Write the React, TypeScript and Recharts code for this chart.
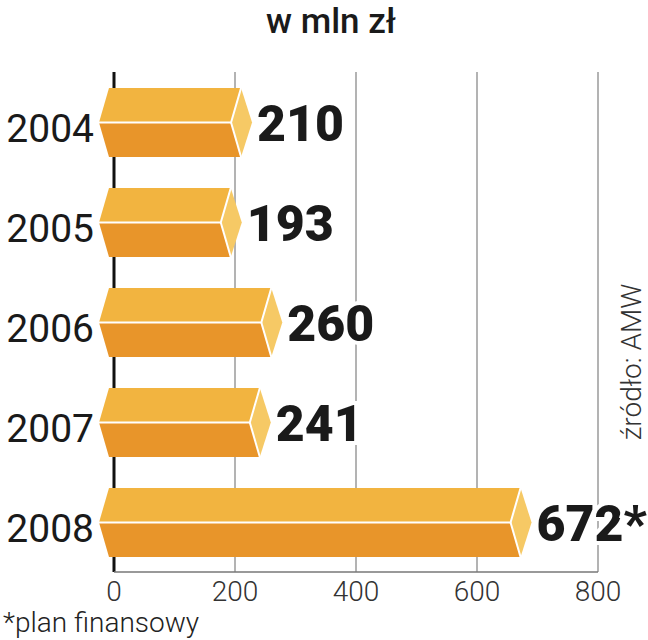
import { BarChart, Bar, XAxis, YAxis, CartesianGrid, LabelList } from 'recharts';

const years = ['2004', '2005', '2006', '2007', '2008'];
const values = [210, 193, 260, 241, 672];
const notes = ['', '', '', '', '*'];
const xTicks = [0, 200, 400, 600, 800];

const data = years.map((year, i) => ({ year, value: values[i], note: notes[i] }));

const FONT = 'Roboto, "Liberation Sans", sans-serif';

// hexagonal prism: light top face, darker bottom face, yellow end cap
function PrismBar(props: any) {
  const { x, y, width, height } = props;
  const m = y + height / 2;
  const b = y + height;
  const xr = x + width;
  return (
    <g>
      <polygon points={`${x - 5},${y} ${xr},${y} ${xr - 10},${m} ${x - 15},${m}`} fill="#f2b440" />
      <polygon points={`${x - 15},${m} ${xr - 10},${m} ${xr},${b} ${x - 5},${b}`} fill="#e8952a" />
      <polygon points={`${xr},${y} ${xr + 11},${m} ${xr},${b} ${xr - 10},${m}`} fill="#f6c965" />
      <polyline points={`${x - 15},${m} ${xr - 10},${m} ${xr},${y}`} fill="none" stroke="#fff" strokeWidth={2} />
      <line x1={xr - 10} y1={m} x2={xr} y2={b} stroke="#fff" strokeWidth={2} />
    </g>
  );
}

function ValueLabel(props: any) {
  const { x, y, width, height, index } = props;
  return (
    <text
      x={x + width + 16}
      y={y + height / 2}
      dy="0.36em"
      fontFamily={FONT}
      fontWeight={900}
      fontSize={50}
      fill="#1a1a1a"
      stroke="#fff"
      strokeWidth={8}
      paintOrder="stroke"
    >
      {values[index]}
      {notes[index]}
    </text>
  );
}

function GridLine(props: any) {
  const { x1, y1, x2, y2, index } = props;
  const isZero = index === 0 || x1 < 120;
  return (
    <line
      x1={x1}
      y1={y1}
      x2={x2}
      y2={y2}
      stroke={isZero ? '#111' : '#9a9a9a'}
      strokeWidth={isZero ? 3 : 1.5}
    />
  );
}

export default function App() {
  return (
    <div style={{ position: 'absolute', left: 0, top: 0, width: 648, height: 640, background: '#fff' }}>
      <div
        style={{
          position: 'absolute',
          left: 0,
          top: 2,
          width: 662,
          textAlign: 'center',
          fontFamily: FONT,
          fontWeight: 500,
          fontSize: 35,
          lineHeight: '40px',
          color: '#1a1a1a',
        }}
      >
        w mln zł
      </div>
      <BarChart
        width={648}
        height={640}
        data={data}
        layout="vertical"
        margin={{ top: 72, right: 50, left: 0, bottom: 0 }}
        barSize={69}
      >
        <CartesianGrid horizontal={false} vertical={GridLine} />
        <XAxis
          type="number"
          domain={[0, 800]}
          ticks={xTicks}
          height={68}
          tickLine={false}
          tickSize={0}
          tickMargin={9}
          axisLine={{ stroke: '#777', strokeWidth: 1.5 }}
          tick={{ fontFamily: FONT, fontWeight: 300, fontSize: 28, fill: '#333' }}
        />
        <YAxis
          type="category"
          dataKey="year"
          width={114}
          axisLine={false}
          tickLine={false}
          tickSize={0}
          tickMargin={20}
          tick={{ fontFamily: FONT, fontSize: 39, fill: '#1a1a1a', dy: 6 }}
        />
        <Bar dataKey="value" shape={PrismBar} isAnimationActive={false}>
          <LabelList dataKey="value" content={ValueLabel} />
        </Bar>
      </BarChart>
      <div
        style={{
          position: 'absolute',
          left: 3,
          top: 608,
          fontFamily: FONT,
          fontWeight: 300,
          fontSize: 28,
          lineHeight: '29px',
          color: '#222',
        }}
      >
        *plan finansowy
      </div>
      <div
        style={{
          position: 'absolute',
          left: 632,
          top: 362,
          transform: 'translate(-50%, -50%) rotate(-90deg)',
          whiteSpace: 'nowrap',
          fontFamily: FONT,
          fontWeight: 300,
          fontSize: 28,
          lineHeight: '24px',
          color: '#333',
        }}
      >
        źródło: AMW
      </div>
    </div>
  );
}
